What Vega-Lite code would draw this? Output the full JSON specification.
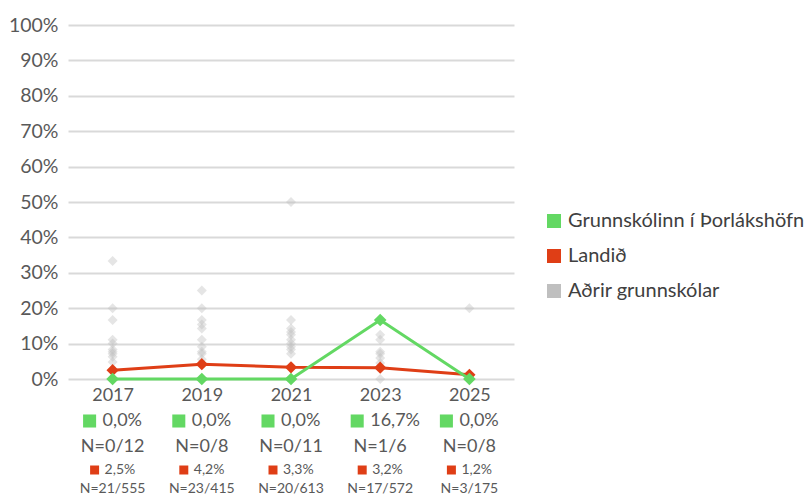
{
  "$schema": "https://vega.github.io/schema/vega-lite/v6.json",
  "width": 446,
  "height": 354,
  "autosize": {"type": "none"},
  "padding": {"left": 68, "top": 25, "right": 298, "bottom": 117},
  "background": "white",
  "config": {
    "font": "Lato",
    "view": {"stroke": null},
    "axisY": {"format": ".0%", "tickCount": 20, "labelOverlap": false, "domain": false, "ticks": false, "grid": true,
              "gridColor": "#d9d9d9", "gridWidth": 2, "labelFontSize": 19.5, "labelColor": "#595959", "labelPadding": 10, "title": null},
    "locale": {"number": {"decimal": ",", "thousands": ".", "grouping": [3], "currency": ["", " kr."]}}
  },
  "datasets": {
    "main": [
      {"year": "2017", "series": "Grunnskólinn í Þorlákshöfn", "value": 0.0, "k": 0, "n": 12},
      {"year": "2019", "series": "Grunnskólinn í Þorlákshöfn", "value": 0.0, "k": 0, "n": 8},
      {"year": "2021", "series": "Grunnskólinn í Þorlákshöfn", "value": 0.0, "k": 0, "n": 11},
      {"year": "2023", "series": "Grunnskólinn í Þorlákshöfn", "value": 0.1667, "k": 1, "n": 6},
      {"year": "2025", "series": "Grunnskólinn í Þorlákshöfn", "value": 0.0, "k": 0, "n": 8},
      {"year": "2017", "series": "Landið", "value": 0.025, "k": 21, "n": 555},
      {"year": "2019", "series": "Landið", "value": 0.042, "k": 23, "n": 415},
      {"year": "2021", "series": "Landið", "value": 0.033, "k": 20, "n": 613},
      {"year": "2023", "series": "Landið", "value": 0.032, "k": 17, "n": 572},
      {"year": "2025", "series": "Landið", "value": 0.012, "k": 3, "n": 175}
    ],
    "others": [
      {"year": "2017", "series": "Aðrir grunnskólar", "value": 0.333},
      {"year": "2017", "series": "Aðrir grunnskólar", "value": 0.2},
      {"year": "2017", "series": "Aðrir grunnskólar", "value": 0.167},
      {"year": "2017", "series": "Aðrir grunnskólar", "value": 0.111},
      {"year": "2017", "series": "Aðrir grunnskólar", "value": 0.1},
      {"year": "2017", "series": "Aðrir grunnskólar", "value": 0.083},
      {"year": "2017", "series": "Aðrir grunnskólar", "value": 0.077},
      {"year": "2017", "series": "Aðrir grunnskólar", "value": 0.071},
      {"year": "2017", "series": "Aðrir grunnskólar", "value": 0.063},
      {"year": "2017", "series": "Aðrir grunnskólar", "value": 0.048},
      {"year": "2017", "series": "Aðrir grunnskólar", "value": 0.0},
      {"year": "2019", "series": "Aðrir grunnskólar", "value": 0.25},
      {"year": "2019", "series": "Aðrir grunnskólar", "value": 0.2},
      {"year": "2019", "series": "Aðrir grunnskólar", "value": 0.167},
      {"year": "2019", "series": "Aðrir grunnskólar", "value": 0.154},
      {"year": "2019", "series": "Aðrir grunnskólar", "value": 0.143},
      {"year": "2019", "series": "Aðrir grunnskólar", "value": 0.111},
      {"year": "2019", "series": "Aðrir grunnskólar", "value": 0.091},
      {"year": "2019", "series": "Aðrir grunnskólar", "value": 0.077},
      {"year": "2019", "series": "Aðrir grunnskólar", "value": 0.071},
      {"year": "2019", "series": "Aðrir grunnskólar", "value": 0.056},
      {"year": "2019", "series": "Aðrir grunnskólar", "value": 0.0},
      {"year": "2021", "series": "Aðrir grunnskólar", "value": 0.5},
      {"year": "2021", "series": "Aðrir grunnskólar", "value": 0.167},
      {"year": "2021", "series": "Aðrir grunnskólar", "value": 0.143},
      {"year": "2021", "series": "Aðrir grunnskólar", "value": 0.133},
      {"year": "2021", "series": "Aðrir grunnskólar", "value": 0.125},
      {"year": "2021", "series": "Aðrir grunnskólar", "value": 0.111},
      {"year": "2021", "series": "Aðrir grunnskólar", "value": 0.1},
      {"year": "2021", "series": "Aðrir grunnskólar", "value": 0.091},
      {"year": "2021", "series": "Aðrir grunnskólar", "value": 0.083},
      {"year": "2021", "series": "Aðrir grunnskólar", "value": 0.071},
      {"year": "2021", "series": "Aðrir grunnskólar", "value": 0.0},
      {"year": "2023", "series": "Aðrir grunnskólar", "value": 0.125},
      {"year": "2023", "series": "Aðrir grunnskólar", "value": 0.111},
      {"year": "2023", "series": "Aðrir grunnskólar", "value": 0.077},
      {"year": "2023", "series": "Aðrir grunnskólar", "value": 0.071},
      {"year": "2023", "series": "Aðrir grunnskólar", "value": 0.059},
      {"year": "2023", "series": "Aðrir grunnskólar", "value": 0.045},
      {"year": "2023", "series": "Aðrir grunnskólar", "value": 0.0},
      {"year": "2025", "series": "Aðrir grunnskólar", "value": 0.2},
      {"year": "2025", "series": "Aðrir grunnskólar", "value": 0.0}
    ]
  },
  "encoding": {
    "x": {
      "field": "year", "type": "nominal",
      "scale": {"type": "point", "padding": 0.5},
      "axis": {"title": null, "domain": false, "ticks": false, "grid": false, "labelAngle": 0,
               "labelFontSize": 18, "labelColor": "#595959", "labelPadding": 7, "labelFont": "Lato"}
    },
    "y": {
      "field": "value", "type": "quantitative",
      "scale": {"domain": [0, 1], "nice": false},
      "axis": {"values": [0, 0.1, 0.2, 0.3, 0.4, 0.5, 0.6, 0.7, 0.8, 0.9, 1], "tickCount": 20}
    }
  },
  "layer": [
    {
      "data": {"name": "others"},
      "mark": {"type": "point", "shape": "diamond", "filled": true, "size": 100, "opacity": 0.4},
      "encoding": {
        "color": {
          "field": "series", "type": "nominal",
          "scale": {"domain": ["Grunnskólinn í Þorlákshöfn", "Landið", "Aðrir grunnskólar"],
                    "range": ["#63d863", "#df3e16", "#bfbfbf"]},
          "legend": {"title": null, "orient": "none", "legendX": 476, "legendY": 186,
                     "symbolType": "square", "symbolSize": 196, "symbolOpacity": 1, "symbolStrokeWidth": 0,
                     "labelFontSize": 20, "labelColor": "#404040", "rowPadding": 15, "labelOffset": 4,
                     "labelLimit": 400, "padding": 0}
        }
      }
    },
    {
      "data": {"name": "main"},
      "transform": [{"filter": "datum.series === 'Landið'"}],
      "mark": {"type": "line", "strokeWidth": 3, "point": {"shape": "diamond", "filled": true, "size": 150}},
      "encoding": {
        "color": {"field": "series", "type": "nominal"}
      }
    },
    {
      "data": {"name": "main"},
      "transform": [{"filter": "datum.series === 'Grunnskólinn í Þorlákshöfn'"}],
      "mark": {"type": "line", "strokeWidth": 3, "point": {"shape": "diamond", "filled": true, "size": 160}},
      "encoding": {
        "color": {"field": "series", "type": "nominal"}
      }
    },
    {
      "data": {"name": "main"},
      "transform": [{"filter": "datum.series === 'Grunnskólinn í Þorlákshöfn'"}],
      "mark": {"type": "point", "shape": "square", "filled": true, "size": 170, "opacity": 1, "color": "#63d863", "xOffset": -23, "yOffset": 42},
      "encoding": {"y": {"datum": 0}}
    },
    {
      "data": {"name": "main"},
      "transform": [{"filter": "datum.series === 'Grunnskólinn í Þorlákshöfn'"}],
      "mark": {"type": "text", "fontSize": 18, "color": "#595959", "align": "left", "baseline": "middle", "xOffset": -10, "yOffset": 42},
      "encoding": {"y": {"datum": 0}, "text": {"field": "value", "type": "quantitative", "format": ".1%"}}
    },
    {
      "data": {"name": "main"},
      "transform": [{"filter": "datum.series === 'Grunnskólinn í Þorlákshöfn'"}, {"calculate": "'N=' + datum.k + '/' + datum.n", "as": "ntxt"}],
      "mark": {"type": "text", "fontSize": 18, "color": "#595959", "align": "center", "baseline": "middle", "yOffset": 68},
      "encoding": {"y": {"datum": 0}, "text": {"field": "ntxt", "type": "nominal"}}
    },
    {
      "data": {"name": "main"},
      "transform": [{"filter": "datum.series === 'Landið'"}],
      "mark": {"type": "point", "shape": "square", "filled": true, "size": 81, "opacity": 1, "color": "#df3e16", "xOffset": -18, "yOffset": 91},
      "encoding": {"y": {"datum": 0}}
    },
    {
      "data": {"name": "main"},
      "transform": [{"filter": "datum.series === 'Landið'"}],
      "mark": {"type": "text", "fontSize": 14, "color": "#595959", "align": "left", "baseline": "middle", "xOffset": -8, "yOffset": 91},
      "encoding": {"y": {"datum": 0}, "text": {"field": "value", "type": "quantitative", "format": ".1%"}}
    },
    {
      "data": {"name": "main"},
      "transform": [{"filter": "datum.series === 'Landið'"}, {"calculate": "'N=' + datum.k + '/' + datum.n", "as": "ntxt"}],
      "mark": {"type": "text", "fontSize": 14, "color": "#595959", "align": "center", "baseline": "middle", "yOffset": 110},
      "encoding": {"y": {"datum": 0}, "text": {"field": "ntxt", "type": "nominal"}}
    }
  ]
}
